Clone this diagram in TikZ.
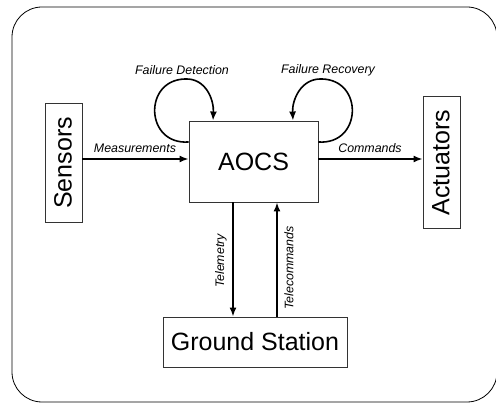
\documentclass[tikz,border=0pt]{standalone}
\usepackage{fontspec}
\setmainfont{Liberation Sans}
\usetikzlibrary{arrows.meta}
\begin{document}
\begin{tikzpicture}[x=1pt,y=-1pt,
  box/.style={draw=black!80,line width=0.9pt,inner sep=0pt,font=\fontsize{25}{28}\selectfont},
  conn/.style={line width=1.6pt,-{Latex[length=9pt,width=7pt]}},
  lbl/.style={font=\fontsize{12.4}{14}\selectfont\itshape,inner sep=0pt}]
\useasboundingbox (0,0) rectangle (496,403);
\draw[line width=0.8pt,rounded corners=30pt] (12,7) rectangle (497,402);
\node[box,minimum width=37pt,minimum height=119pt] (sens) at (63.5,162.5) {};
\node[rotate=90,font=\fontsize{25}{28}\selectfont] (senst) at (63,163) {Sensors};
\node[box,minimum width=37pt,minimum height=132pt] (act) at (441.5,162) {};
\node[rotate=90,font=\fontsize{25}{28}\selectfont] (actt) at (441,162.5) {Actuators};
\node[box,minimum width=129pt,minimum height=81pt] (aocs) at (253.5,161.5) {AOCS};
\node[box,minimum width=184pt,minimum height=50pt] (gs) at (255,342) {Ground Station};
\draw[conn] (sens.east |- 0,159) -- (aocs.west |- 0,159);
\draw[conn] (aocs.east |- 0,159) -- (act.west |- 0,159);
\draw[conn] (aocs.south -| 233,0) -- (gs.north -| 233,0);
\draw[conn] (gs.north -| 277,0) -- (aocs.south -| 277,0);
\coordinate (l1) at (aocs.west |- 0,142);
\coordinate (l2) at (aocs.north -| 213,0);
\coordinate (r1) at (aocs.east |- 0,142);
\coordinate (r2) at (aocs.north -| 293,0);
\draw[conn] (l1) .. controls (145,145) and (143,80) .. (185,79) .. controls (206,78) and (214,100) .. (l2);
\draw[conn] (r1) .. controls (362,145) and (364,80) .. (322,79) .. controls (301,78) and (292,100) .. (r2);
\node[lbl] (mlab) at (135,148.5) {Measurements};
\node[lbl] (clab) at (370,148.5) {Commands};
\node[lbl] (fdlab) at (182,70) {Failure Detection};
\node[lbl] (frlab) at (328,70) {Failure Recovery};
\node[lbl,rotate=90] (tmlab) at (221,261) {Telemetry};
\node[lbl,rotate=90] (tclab) at (289,268) {Telecommands};
\end{tikzpicture}
\end{document}
